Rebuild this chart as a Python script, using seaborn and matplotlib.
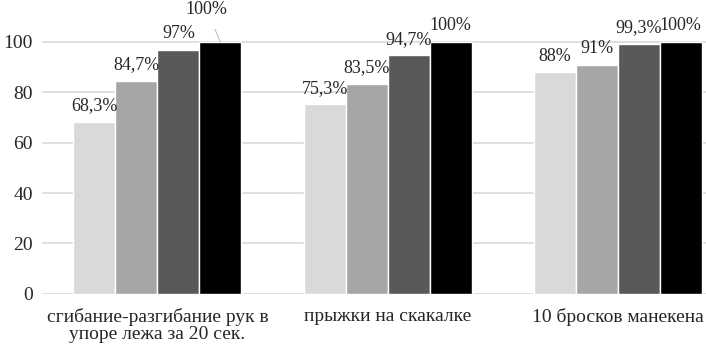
import matplotlib.pyplot as plt
import pandas as pd
import seaborn as sns

# --- data ---
categories = ["сгибание-разгибание рук в\nупоре лежа за 20 сек.",
              "прыжки на скакалке",
              "10 бросков манекена"]
series = ["1", "2", "3", "4"]
values_1 = [68.3, 75.3, 88.0]
values_2 = [84.7, 83.5, 91.0]
values_3 = [97.0, 94.7, 99.3]
values_4 = [100.0, 100.0, 100.0]
y_ticks = [0, 20, 40, 60, 80, 100]

colors = ["#d9d9d9", "#a6a6a6", "#595959", "#000000"]

rows = []
for s, vals in zip(series, [values_1, values_2, values_3, values_4]):
    for c, v in zip(categories, vals):
        rows.append({"cat": c, "series": s, "value": v})
df = pd.DataFrame(rows)

# --- plot ---
sns.set_style("white")
plt.rcParams["font.family"] = ["Liberation Serif", "DejaVu Serif"]

fig = plt.figure(figsize=(7.06, 3.49), dpi=100)
ax = fig.add_axes([0.060, 0.158, 0.978, 0.866])

sns.barplot(data=df, x="cat", y="value", hue="series", order=categories,
            hue_order=series, palette=colors, width=0.73, gap=0,
            edgecolor="white", linewidth=1, saturation=1, ax=ax, legend=False)

ax.set_ylim(0, 120)
ax.set_yticks(y_ticks)
ax.yaxis.grid(True, color="#d9d9d9", linewidth=1.2)
ax.set_axisbelow(True)
for sp in ax.spines.values():
    sp.set_visible(False)
ax.tick_params(axis="both", length=0, labelsize=14, colors="#262626")
ax.tick_params(axis="y", pad=7)
ax.tick_params(axis="x", pad=10)
for lab in ax.get_xticklabels():
    lab.set_linespacing(1.0)
ax.set_xlabel("")
ax.set_ylabel("")

# value labels
for i, cont in enumerate(ax.containers):
    for j, bar in enumerate(cont):
        v = bar.get_height()
        txt = f"{v:g}%".replace(".", ",")
        x = bar.get_x() + bar.get_width() / 2
        if i == 3 and j == 0:
            ax.annotate(txt, xy=(x, v), xytext=(-14, 32), textcoords="offset pixels",
                        ha="center", va="center", fontsize=13, color="#262626",
                        arrowprops=dict(arrowstyle="-", color="#bfbfbf", lw=0.8,
                                        shrinkA=6, shrinkB=0))
        else:
            ax.annotate(txt, xy=(x, v), xytext=(0, 16), textcoords="offset pixels",
                        ha="center", va="center", fontsize=13, color="#262626")

fig.savefig("out.png", dpi=100)
